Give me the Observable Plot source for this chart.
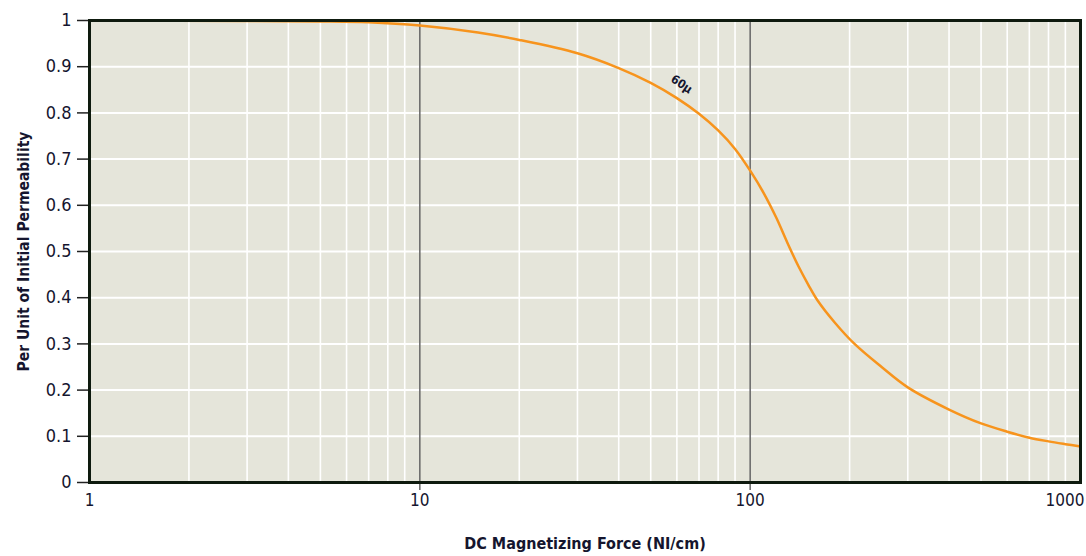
<!DOCTYPE html>
<html>
<head>
<meta charset="utf-8">
<script src="https://cdn.jsdelivr.net/npm/d3@7"></script>
<script src="https://cdn.jsdelivr.net/npm/@observablehq/plot@0.6"></script>
<style>
  html, body { margin: 0; padding: 0; background: #ffffff; }
  #chart svg { display: block; }
  #chart svg text { font-stretch: condensed; }
</style>
</head>
<body>
<div id="chart"></div>
<script>
// Curve: DC magnetizing force (NI/cm) vs per-unit initial permeability, 60µ material
const force = [1, 3, 5, 7, 10, 15, 20, 30, 40, 50, 60, 70, 80, 90, 100, 110, 120, 130, 140, 150, 160, 180, 207, 250, 300, 400, 500, 600, 700, 800, 900, 1000];
const perm  = [1.0, 0.999, 0.998, 0.996, 0.989, 0.974, 0.958, 0.929, 0.897, 0.865, 0.832, 0.798, 0.762, 0.722, 0.675, 0.626, 0.573, 0.517, 0.468, 0.428, 0.394, 0.347, 0.300, 0.250, 0.206, 0.158, 0.128, 0.110, 0.097, 0.089, 0.083, 0.078];

const xLabelTicks = [1, 10, 100];
const xLastTick = [1000];
const xMajorLines = [10, 100];
const xMinorGrid = [2,3,4,5,6,7,8,9, 20,30,40,50,60,70,80,90, 200,300,400,500,600,700,800,900];
const yTicks = [0, 0.1, 0.2, 0.3, 0.4, 0.5, 0.6, 0.7, 0.8, 0.9, 1];
const curveLabel = [{x: 62, y: 0.862, text: "60µ"}];

const data = force.map((f, i) => ({force: f, perm: perm[i]}));

const FONT = '"DejaVu Sans Condensed", "DejaVu Sans", sans-serif';
const INK = "#15152e";

const chart = Plot.plot({
  width: 1086,
  height: 556,
  marginLeft: 89,
  marginRight: 6,
  marginTop: 20,
  marginBottom: 74,
  style: {fontFamily: FONT, color: INK, background: "#ffffff"},
  x: {type: "log", domain: [1, 1000]},
  y: {domain: [0, 1]},
  marks: [
    Plot.frame({fill: "#e5e5da"}),
    Plot.ruleX(xMinorGrid, {stroke: "#ffffff", strokeWidth: 1.6}),
    Plot.ruleY(yTicks, {stroke: "#ffffff", strokeWidth: 2}),
    Plot.ruleX(xMajorLines, {stroke: "#666666", strokeWidth: 1.5}),
    Plot.axisX(xMajorLines, {tickSize: 8, stroke: "#666666", strokeWidth: 1.5, text: null, label: null}),
    Plot.axisX(xLabelTicks, {tickSize: 0, tickPadding: 11, fontSize: 17, label: null, tickFormat: d3.format("d")}),
    Plot.axisX(xLastTick, {tickSize: 0, tickPadding: 11, fontSize: 17, label: null, textAnchor: "end", dx: 4, tickFormat: d3.format("d")}),
    Plot.axisX({ticks: [], label: "DC Magnetizing Force (NI/cm)", labelAnchor: "center", labelArrow: "none", labelOffset: 66, fontSize: 16, fontWeight: "bold"}),
    Plot.axisY(yTicks, {tickSize: 12, tickPadding: 6, fontSize: 18, stroke: "#222222", strokeWidth: 1.5, label: null, tickFormat: d => d === 0 ? "0" : d === 1 ? "1" : d3.format(".1f")(d)}),
    Plot.axisY({ticks: [], label: "Per Unit of Initial Permeability", labelAnchor: "center", labelArrow: "none", labelOffset: 72, fontSize: 15.5, fontWeight: "bold"}),
    Plot.line(data, {x: "force", y: "perm", stroke: "#f7941d", strokeWidth: 2.5, curve: "catmull-rom"}),
    Plot.text(curveLabel, {x: "x", y: "y", text: "text", rotate: 34, fontSize: 12, fontWeight: "bold", fill: INK}),
    Plot.frame({stroke: "#0e1a0e", strokeWidth: 3})
  ]
});

document.getElementById("chart").appendChild(chart);
</script>
</body>
</html>
